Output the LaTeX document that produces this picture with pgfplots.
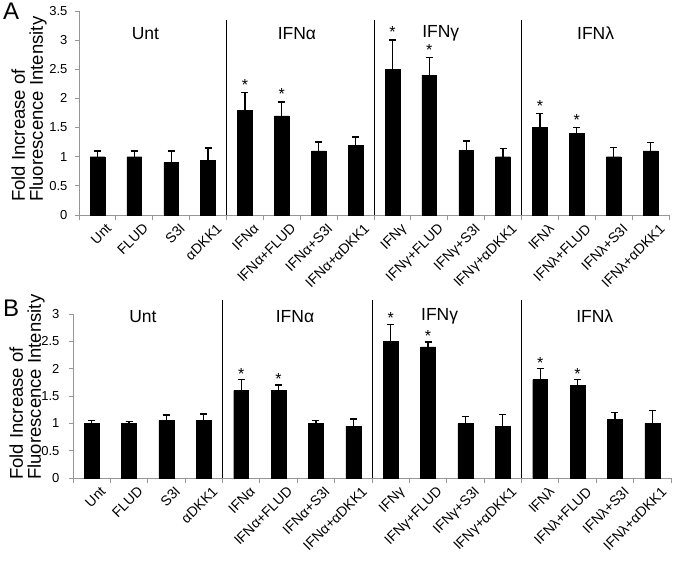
\documentclass[border=0pt]{standalone}
\usepackage{fontspec}
\setmainfont{Liberation Sans}
\usepackage{pgfplots}
\pgfplotsset{compat=1.18}
\usepackage{pgfplotstable}

\pgfplotstableread{
x y e
0 1.00 0.10
1 1.00 0.10
2 0.90 0.20
3 0.94 0.21
4 1.80 0.30
5 1.70 0.24
6 1.10 0.15
7 1.20 0.14
8 2.50 0.50
9 2.40 0.30
10 1.11 0.16
11 1.00 0.14
12 1.50 0.24
13 1.40 0.10
14 1.00 0.16
15 1.10 0.14
}\dataA

\pgfplotstableread{
x y
4 2.10
5 1.94
8 3.00
9 2.70
12 1.74
13 1.50
}\starsA

\pgfplotstableread{
x y e
0 1.00 0.05
1 1.00 0.03
2 1.05 0.10
3 1.05 0.12
4 1.60 0.20
5 1.60 0.10
6 1.00 0.05
7 0.95 0.13
8 2.50 0.31
9 2.40 0.09
10 1.00 0.12
11 0.94 0.22
12 1.80 0.20
13 1.70 0.10
14 1.07 0.13
15 1.00 0.24
}\dataB

\pgfplotstableread{
x y
4 1.80
5 1.70
8 2.81
9 2.49
12 2.00
13 1.80
}\starsB

\definecolor{axgray}{RGB}{150,150,150}

\pgfplotsset{
  panel/.style={
    anchor=south west,
    scale only axis,
    xmin=-0.5, xmax=15.5, ymin=0,
    axis x line*=bottom, axis y line*=left,
    axis line style={draw=axgray, line width=0.8pt},
    tick align=outside,
    xtick={0,...,15},
    xticklabels={Unt,FLUD,S3I,αDKK1,IFNα,IFNα+FLUD,IFNα+S3I,IFNα+αDKK1,IFNγ,IFNγ+FLUD,IFNγ+S3I,IFNγ+αDKK1,IFNλ,IFNλ+FLUD,IFNλ+S3I,IFNλ+αDKK1},
    every major x tick/.style={draw=none},
    minor xtick={-0.5,0.5,...,15.5},
    every minor x tick/.style={draw=axgray, line width=0.8pt},
    minor tick length=5pt,
    major tick length=4pt,
    every major y tick/.style={draw=axgray, line width=0.8pt},
    xticklabel style={rotate=45, anchor=north east, font=\fontsize{14}{14}\selectfont, inner sep=1pt, xshift=4pt, yshift=-7pt},
    yticklabel style={font=\fontsize{13}{13}\selectfont, /pgf/number format/assume math mode=true, xshift=-4pt},
    clip=false,
  },
  bars/.style={ybar, bar width=0.4, fill=black, draw=black,
    error bars/.cd, y dir=plus, y explicit,
    error bar style={line width=1.3pt, black},
    error mark options={rotate=90, mark size=3.5pt, line width=1.3pt, black}},
  sep/.style={black, line width=1pt, forget plot},
}

\begin{document}
\begin{tikzpicture}[x=1pt,y=1pt]
\path[use as bounding box] (0,0) rectangle (676,561);

% Panel A
\node[anchor=base west, font=\fontsize{24}{24}\selectfont, inner sep=0] at (3,541) {A};
\node[rotate=90, anchor=south west, align=left, inner sep=0, font=\fontsize{18.5}{18}\selectfont] at (47,359) {Fold Increase of\\Fluorescence Intensity};
\begin{axis}[panel, at={(79pt,346pt)}, width=590pt, height=204pt,
  ymax=3.5, ytick={0,0.5,...,3.5}]
  \addplot[bars] table[x=x, y=y, y error=e] {\dataA};
  \addplot[sep] coordinates {(3.5,0) (3.5,3.34)};
  \addplot[sep] coordinates {(7.5,0) (7.5,3.34)};
  \addplot[sep] coordinates {(11.5,0) (11.5,3.34)};
  \addplot[draw=none, nodes near coords={*}, every node near coord/.append style={anchor=center, yshift=8pt, font=\fontsize{16}{16}\selectfont}] table[x=x, y=y] {\starsA};
  \node[font=\fontsize{17.5}{17.5}\selectfont] at (axis cs:1.3,3.12) {Unt};
  \node[font=\fontsize{17.5}{17.5}\selectfont] at (axis cs:5.41,3.12) {IFNα};
  \node[font=\fontsize{17.5}{17.5}\selectfont] at (axis cs:9.31,3.12) {IFNγ};
  \node[font=\fontsize{17.5}{17.5}\selectfont] at (axis cs:13.51,3.12) {IFNλ};
\end{axis}

% Panel B
\node[anchor=base west, font=\fontsize{24}{24}\selectfont, inner sep=0] at (3,244) {B};
\node[rotate=90, anchor=south west, align=left, inner sep=0, font=\fontsize{18.5}{18}\selectfont] at (45,81) {Fold Increase of\\Fluorescence Intensity};
\begin{axis}[panel, at={(73pt,83pt)}, width=598pt, height=164pt,
  ymax=3, ytick={0,0.5,...,3},
  yticklabel style={xshift=-2pt}]
  \addplot[bars] table[x=x, y=y, y error=e] {\dataB};
  \addplot[sep] coordinates {(3.5,0) (3.5,3.25)};
  \addplot[sep] coordinates {(7.5,0) (7.5,3.25)};
  \addplot[sep] coordinates {(11.5,0) (11.5,3.25)};
  \addplot[draw=none, nodes near coords={*}, every node near coord/.append style={anchor=center, yshift=6pt, font=\fontsize{16}{16}\selectfont}] table[x=x, y=y] {\starsB};
  \node[font=\fontsize{17.5}{17.5}\selectfont] at (axis cs:1.37,2.96) {Unt};
  \node[font=\fontsize{17.5}{17.5}\selectfont] at (axis cs:5.44,2.96) {IFNα};
  \node[font=\fontsize{17.5}{17.5}\selectfont] at (axis cs:9.31,2.96) {IFNγ};
  \node[font=\fontsize{17.5}{17.5}\selectfont] at (axis cs:13.46,2.96) {IFNλ};
\end{axis}
\end{tikzpicture}
\end{document}
